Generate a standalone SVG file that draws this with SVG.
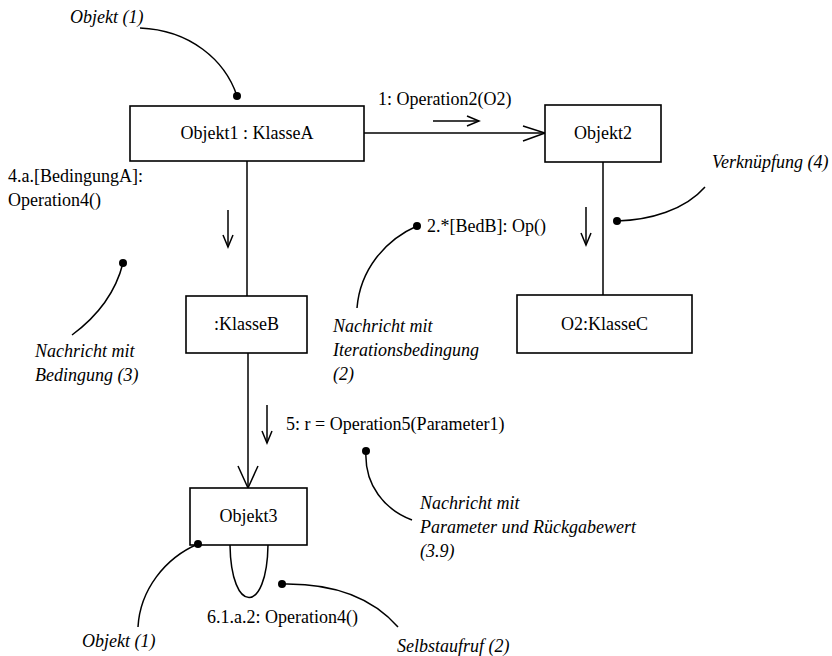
<svg xmlns="http://www.w3.org/2000/svg" width="832" height="656" viewBox="0 0 832 656">
  <style>
    .box { fill: #fff; stroke: #000; stroke-width: 1.6; }
    .ln { fill: none; stroke: #000; stroke-width: 1.5; }
    .t { font-family: "Liberation Serif", "Times New Roman", serif; font-size: 18px; fill: #000; }
    .c { text-anchor: middle; }
    .i { font-style: italic; }
    .dot { fill: #000; }
  </style>

  <!-- links between objects -->
  <g id="connectors">
    <line class="ln" x1="364" y1="133" x2="545" y2="133"/>
    <polyline class="ln" points="523,126 545,133 523,141"/>
    <line class="ln" x1="247" y1="161" x2="247" y2="296"/>
    <line class="ln" x1="603" y1="162" x2="603" y2="295"/>
    <line class="ln" x1="248" y1="353" x2="248" y2="488"/>
    <polyline class="ln" points="238,466 248,488 258,466"/>
    <!-- self call loop on Objekt3 -->
    <path class="ln" d="M230,545 C231,615 267,615 268,545"/>
  </g>

  <!-- message arrows -->
  <g id="messages">
    <line class="ln" x1="433" y1="121" x2="479" y2="121"/>
    <polyline class="ln" points="467,116 479,121 467,126"/>
    <line class="ln" x1="228" y1="210" x2="228" y2="247"/>
    <polyline class="ln" points="223,235 228,247 233,235"/>
    <line class="ln" x1="586" y1="207" x2="586" y2="245"/>
    <polyline class="ln" points="581,233 586,245 591,233"/>
    <line class="ln" x1="267" y1="405" x2="267" y2="443"/>
    <polyline class="ln" points="262,431 267,443 272,431"/>
    <text class="t" x="378" y="105">1: Operation2(O2)</text>
    <text class="t" x="8" y="182">4.a.[BedingungA]:</text>
    <text class="t" x="8" y="206">Operation4()</text>
    <text class="t" x="427" y="232">2.*[BedB]: Op()</text>
    <text class="t" x="286" y="430">5: r = Operation5(Parameter1)</text>
    <text class="t" x="207" y="623">6.1.a.2: Operation4()</text>
  </g>

  <!-- objects -->
  <g id="objekt1">
    <rect class="box" x="130" y="106" width="234" height="55"/>
    <text class="t c" x="247" y="139">Objekt1 : KlasseA</text>
  </g>
  <g id="objekt2">
    <rect class="box" x="545" y="105" width="116" height="57"/>
    <text class="t c" x="603" y="139">Objekt2</text>
  </g>
  <g id="klasseB">
    <rect class="box" x="186" y="296" width="121" height="57"/>
    <text class="t c" x="246.5" y="330">:KlasseB</text>
  </g>
  <g id="klasseC">
    <rect class="box" x="517" y="295" width="175" height="58"/>
    <text class="t c" x="604.5" y="330">O2:KlasseC</text>
  </g>
  <g id="objekt3">
    <rect class="box" x="190" y="488" width="117" height="57"/>
    <text class="t c" x="248.5" y="522">Objekt3</text>
  </g>

  <!-- annotations with pointer curves -->
  <g id="note-objekt-top">
    <text class="t i" x="70" y="23">Objekt (1)</text>
    <path class="ln" d="M140,28 C190,30 225,60 237,96"/>
    <circle class="dot" cx="237" cy="96" r="4"/>
  </g>
  <g id="note-verknuepfung">
    <text class="t i" x="712" y="168">Verknüpfung (4)</text>
    <path class="ln" d="M617,221 C650,220 685,210 705,187"/>
    <circle class="dot" cx="617" cy="221" r="4"/>
  </g>
  <g id="note-iteration">
    <path class="ln" d="M417,226 C385,240 360,270 357,308"/>
    <circle class="dot" cx="417" cy="226" r="4"/>
    <text class="t i" x="333" y="332">Nachricht mit</text>
    <text class="t i" x="333" y="356">Iterationsbedingung</text>
    <text class="t i" x="333" y="380">(2)</text>
  </g>
  <g id="note-bedingung">
    <path class="ln" d="M123,263 C115,295 95,318 72,335"/>
    <circle class="dot" cx="123" cy="263" r="4"/>
    <text class="t i" x="35" y="357">Nachricht mit</text>
    <text class="t i" x="35" y="381">Bedingung (3)</text>
  </g>
  <g id="note-parameter">
    <path class="ln" d="M366,451 C364,485 385,510 412,520"/>
    <circle class="dot" cx="366" cy="451" r="4"/>
    <text class="t i" x="420" y="509">Nachricht mit</text>
    <text class="t i" x="420" y="533">Parameter und Rückgabewert</text>
    <text class="t i" x="420" y="557">(3.9)</text>
  </g>
  <g id="note-objekt-bottom">
    <path class="ln" d="M198,544 C165,558 140,590 138,627"/>
    <circle class="dot" cx="198" cy="544" r="4"/>
    <text class="t i" x="82" y="647">Objekt (1)</text>
  </g>
  <g id="note-selbstaufruf">
    <path class="ln" d="M282,584 C330,583 370,595 398,627"/>
    <circle class="dot" cx="282" cy="584" r="4"/>
    <text class="t i" x="397" y="652">Selbstaufruf (2)</text>
  </g>
</svg>
